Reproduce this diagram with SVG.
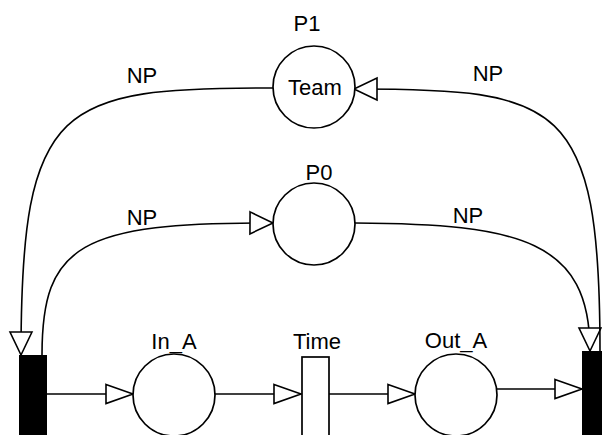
<svg xmlns="http://www.w3.org/2000/svg" width="602" height="435" viewBox="0 0 602 435">
<style>
text{font-family:"Liberation Sans",Arial,sans-serif;font-size:22px;fill:#000;text-anchor:middle}
.place{fill:#fff;stroke:#000;stroke-width:1.7}
.arc{fill:none;stroke:#000;stroke-width:1.6}
.s{marker-end:url(#ah)}
.c{marker-end:url(#ahc)}
</style>
<defs>
<marker id="ah" markerUnits="userSpaceOnUse" markerWidth="32" markerHeight="24" refX="28" refY="11" orient="auto" overflow="visible">
<path d="M1,1.5 L28,11 L1,20.5 Z" fill="#fff" stroke="#000" stroke-width="1.6"/>
</marker>
<marker id="ahc" markerUnits="userSpaceOnUse" markerWidth="28" markerHeight="28" refX="24" refY="12" orient="auto" overflow="visible">
<path d="M1,1 L24,12 L1,23 Z" fill="#fff" stroke="#000" stroke-width="1.6"/>
</marker>
</defs>
<g id="connectors">
<path class="arc c" d="M273,88 C60,88 21,100 21,355"/>
<path class="arc c" d="M42,355 C42,245 80,222 273,223"/>
<path class="arc c" d="M355,223 C520,224 590,240 590,351"/>
<path class="arc c" d="M600,351 C600,100 560,89 354,89"/>
<path class="arc s" d="M47,394 L133,394"/>
<path class="arc s" d="M215,394 L301,394"/>
<path class="arc s" d="M329,394 L415,394"/>
<path class="arc s" d="M497,389 L582,389"/>
<text x="142" y="83">NP</text>
<text x="142" y="225">NP</text>
<text x="488" y="81">NP</text>
<text x="468" y="223">NP</text>
</g>
<g id="P1">
<circle class="place" cx="314" cy="87" r="41"/>
<text x="307" y="31">P1</text>
<text x="315" y="95">Team</text>
</g>
<g id="P0">
<circle class="place" cx="314" cy="224" r="41"/>
<text x="319" y="180">P0</text>
</g>
<g id="In_A">
<circle class="place" cx="174" cy="395" r="41"/>
<text x="174" y="349">In_A</text>
</g>
<g id="Time">
<rect class="place" x="302" y="357" width="27" height="90"/>
<text x="317" y="349">Time</text>
</g>
<g id="Out_A">
<circle class="place" cx="456" cy="395" r="41"/>
<text x="456" y="348">Out_A</text>
</g>
<g id="T_left">
<rect x="19" y="355" width="28" height="90" fill="#000"/>
</g>
<g id="T_right">
<rect x="582" y="351" width="28" height="90" fill="#000"/>
</g>
</svg>
